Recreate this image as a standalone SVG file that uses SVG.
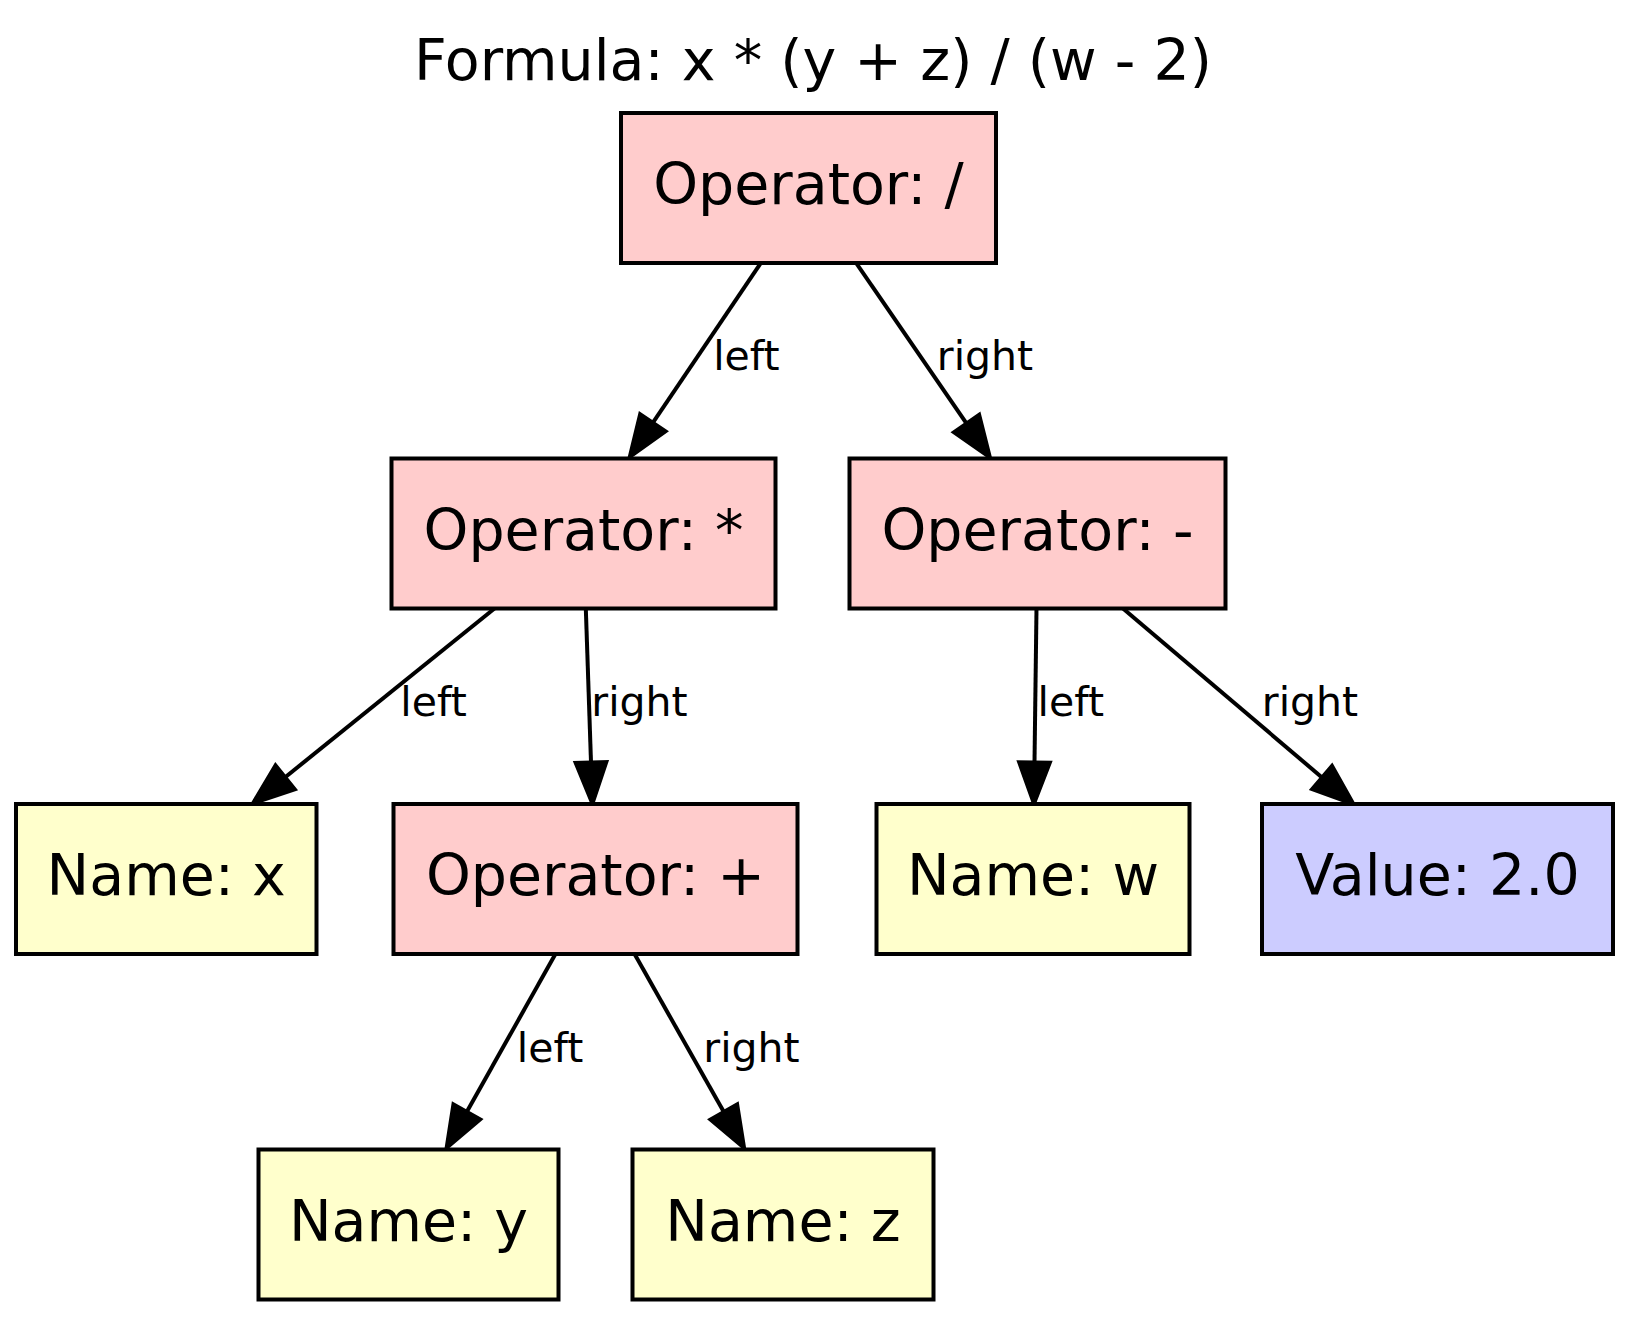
<svg xmlns="http://www.w3.org/2000/svg" width="1629" height="1317" viewBox="0 0 1629 1317">
<style>
  .bg { fill: #ffffff; }
  .box { stroke: #000000; stroke-width: 4; }
  .op { fill: #ffcccc; }
  .name { fill: #ffffcc; }
  .val { fill: #ccccff; }
  .lbl { font-family: "DejaVu Sans", sans-serif; font-size: 57px; fill: #000000; text-anchor: middle; }
  .elbl { font-family: "DejaVu Sans", sans-serif; font-size: 41px; fill: #000000; text-anchor: middle; }
  .edge { stroke: #000000; stroke-width: 4; fill: none; marker-end: url(#arrow); }
</style>
<defs>
  <marker id="arrow" markerUnits="userSpaceOnUse" orient="auto" refX="0" refY="0" markerWidth="50" markerHeight="40" viewBox="-2 -20 50 40" overflow="visible">
    <path d="M0,-16 L43,0 L0,16 Z" fill="#000000" stroke="#000000" stroke-width="3" stroke-linejoin="miter"/>
  </marker>
</defs>
<rect class="bg" x="0" y="0" width="1629" height="1317"/>
<text class="lbl" x="813" y="80">Formula: x * (y + z) / (w - 2)</text>

<g id="connectors">
  <g id="e_div_mul"><line class="edge" x1="760.4" y1="263.6" x2="653.1" y2="422.4"/><text class="elbl" x="746.4" y="370">left</text></g>
  <g id="e_div_sub"><line class="edge" x1="856.6" y1="263.6" x2="966.3" y2="423.1"/><text class="elbl" x="985" y="370">right</text></g>
  <g id="e_mul_x"><line class="edge" x1="494.8" y1="608.2" x2="285.5" y2="777"/><text class="elbl" x="433.5" y="715.6">left</text></g>
  <g id="e_mul_add"><line class="edge" x1="585.8" y1="608.2" x2="591" y2="762"/><text class="elbl" x="639.5" y="715.6">right</text></g>
  <g id="e_sub_w"><line class="edge" x1="1036.5" y1="608.2" x2="1034.5" y2="762"/><text class="elbl" x="1070.8" y="715.6">left</text></g>
  <g id="e_sub_val"><line class="edge" x1="1122.7" y1="608.2" x2="1321.7" y2="777.2"/><text class="elbl" x="1310" y="715.6">right</text></g>
  <g id="e_add_y"><line class="edge" x1="555" y1="954.8" x2="467" y2="1111.5"/><text class="elbl" x="550" y="1061.5">left</text></g>
  <g id="e_add_z"><line class="edge" x1="635" y1="954.8" x2="723.6" y2="1111.6"/><text class="elbl" x="751.5" y="1061.5">right</text></g>
</g>

<g id="n_div"><rect class="box op" x="621" y="113" width="375" height="150"/><text class="lbl" x="808.5" y="204">Operator: /</text></g>
<g id="n_mul"><rect class="box op" x="391.5" y="458.5" width="384" height="150"/><text class="lbl" x="583.5" y="549.5">Operator: *</text></g>
<g id="n_sub"><rect class="box op" x="849.5" y="458.5" width="376" height="150"/><text class="lbl" x="1037.5" y="549.5">Operator: -</text></g>
<g id="n_x"><rect class="box name" x="16" y="804" width="300.5" height="150"/><text class="lbl" x="166.2" y="895">Name: x</text></g>
<g id="n_add"><rect class="box op" x="393.5" y="804" width="404" height="150"/><text class="lbl" x="595.5" y="895">Operator: +</text></g>
<g id="n_w"><rect class="box name" x="876.5" y="804" width="313" height="150"/><text class="lbl" x="1033" y="895">Name: w</text></g>
<g id="n_val"><rect class="box val" x="1262" y="804" width="351" height="150"/><text class="lbl" x="1437.5" y="895">Value: 2.0</text></g>
<g id="n_y"><rect class="box name" x="258.5" y="1149.5" width="300" height="150"/><text class="lbl" x="408.5" y="1240.5">Name: y</text></g>
<g id="n_z"><rect class="box name" x="632.5" y="1149.5" width="301" height="150"/><text class="lbl" x="783" y="1240.5">Name: z</text></g>
</svg>
